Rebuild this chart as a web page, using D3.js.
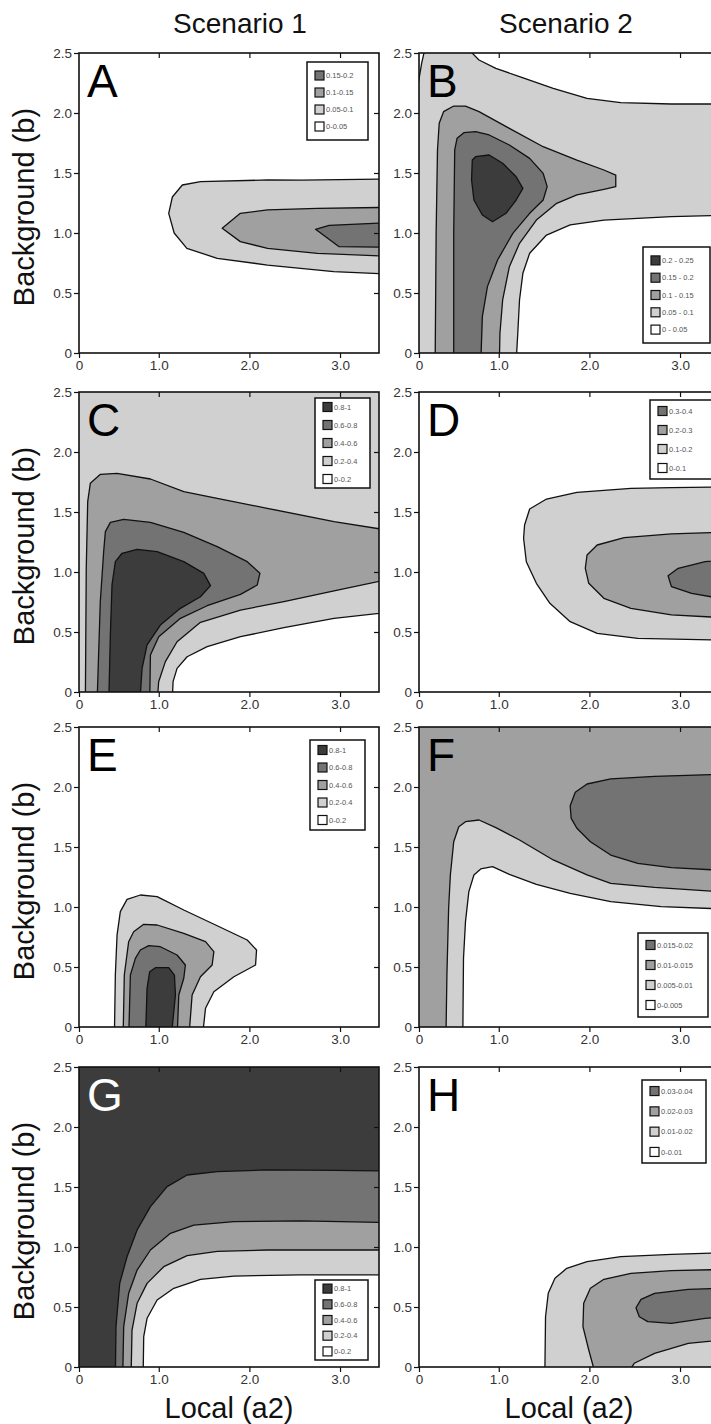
<!DOCTYPE html>
<html>
<head>
<meta charset="utf-8">
<script src="https://cdn.jsdelivr.net/npm/d3@7"></script>
<style>
  body { margin: 0; background: #fff; }
  svg { display: block; }
  text { font-family: "Liberation Sans", Arial, sans-serif; }
</style>
</head>
<body>
<div id="chart"></div>
<script>
// axis ticks
const xTickValues = [0.12, 1, 2, 3];
const xTickLabels = ["0", "1.0", "2.0", "3.0"];
const yTickValues = [0, 0.5, 1, 1.5, 2, 2.5];
const yTickLabels = ["0", "0.5", "1.0", "1.5", "2.0", "2.5"];

const columnTitles = ["Scenario 1", "Scenario 2"];
const xTitle = "Local (a2)";
const yTitle = "Background (b)";

// legend labels, top (highest level) to bottom
const legendA = ["0.15-0.2", "0.1-0.15", "0.05-0.1", "0-0.05"];
const legendB = ["0.2 - 0.25", "0.15 - 0.2", "0.1 - 0.15", "0.05 - 0.1", "0 - 0.05"];
const legendC = ["0.8-1", "0.6-0.8", "0.4-0.6", "0.2-0.4", "0-0.2"];
const legendD = ["0.3-0.4", "0.2-0.3", "0.1-0.2", "0-0.1"];
const legendE = ["0.8-1", "0.6-0.8", "0.4-0.6", "0.2-0.4", "0-0.2"];
const legendF = ["0.015-0.02", "0.01-0.015", "0.005-0.01", "0-0.005"];
const legendG = ["0.8-1", "0.6-0.8", "0.4-0.6", "0.2-0.4", "0-0.2"];
const legendH = ["0.03-0.04", "0.02-0.03", "0.01-0.02", "0-0.01"];

// contour regions: [a2, b] points, level index (0 = lowest band)
const contoursA = [
  {level: 1, pts: [[3.6,1.45],[2.57,1.44],[2.2,1.442],[1.46,1.428],[1.26,1.40],[1.15,1.30],[1.11,1.164],[1.17,1.0],[1.31,0.872],[1.645,0.789],[2.2,0.733],[2.93,0.678],[3.6,0.655]]},
  {level: 2, pts: [[3.6,1.214],[2.75,1.206],[2.2,1.192],[1.9,1.164],[1.70,1.039],[1.9,0.928],[2.2,0.872],[2.75,0.831],[3.6,0.805]]},
  {level: 3, pts: [[3.6,1.088],[2.88,1.064],[2.73,1.031],[2.99,0.886],[3.6,0.88]]}
];
const contoursB = [
  {level: 1, pts: [[-0.1,-0.1],[-0.1,2.2],[0.112,2.247],[0.149,2.414],[0.19,2.55],[0.64,2.55],[0.782,2.442],[0.968,2.372],[1.229,2.303],[1.601,2.206],[1.974,2.122],[2.346,2.086],[2.905,2.075],[3.6,2.075],[3.6,1.15],[2.905,1.136],[2.16,1.108],[1.788,1.067],[1.527,0.983],[1.341,0.831],[1.266,0.664],[1.229,0.442],[1.21,0.164],[1.19,-0.1]]},
  {level: 2, pts: [[0.298,-0.1],[0.309,0.997],[0.324,1.692],[0.343,1.914],[0.391,2.011],[0.503,2.058],[0.633,2.058],[0.782,2.011],[1.117,1.872],[1.49,1.719],[1.862,1.608],[2.16,1.525],[2.291,1.483],[2.291,1.386],[2.16,1.364],[1.862,1.317],[1.639,1.247],[1.415,1.108],[1.229,0.914],[1.117,0.719],[1.043,0.442],[1.013,0.164],[1.006,-0.1]]},
  {level: 3, pts: [[0.503,-0.1],[0.503,0.997],[0.514,1.692],[0.54,1.789],[0.615,1.836],[0.745,1.844],[0.894,1.817],[1.117,1.733],[1.341,1.622],[1.49,1.497],[1.534,1.386],[1.49,1.275],[1.341,1.164],[1.155,0.997],[0.987,0.775],[0.875,0.553],[0.819,0.303],[0.801,-0.1]]},
  {level: 4, pts: [[0.708,1.608],[0.745,1.636],[0.894,1.65],[1.043,1.581],[1.192,1.469],[1.266,1.372],[1.192,1.275],[1.08,1.164],[0.931,1.094],[0.819,1.15],[0.726,1.275],[0.7,1.442]]}
];
const contoursC = [
  {level: 0, pts: [[1.147,-0.1],[1.158,0.086],[1.202,0.197],[1.313,0.294],[1.534,0.378],[1.902,0.461],[2.381,0.536],[2.934,0.614],[3.6,0.67],[3.6,-0.1]]},
  {level: 2, pts: [[0.19,-0.1],[0.2,1.03],[0.216,1.586],[0.245,1.739],[0.356,1.814],[0.54,1.822],[0.908,1.775],[1.276,1.669],[1.645,1.614],[2.197,1.531],[2.934,1.419],[3.6,1.34],[3.6,0.95],[2.934,0.842],[2.381,0.753],[1.902,0.683],[1.46,0.581],[1.202,0.419],[1.073,0.253],[0.999,0.086],[0.982,-0.1]]},
  {level: 3, pts: [[0.319,-0.1],[0.355,0.753],[0.392,1.169],[0.411,1.336],[0.466,1.414],[0.613,1.439],[0.908,1.414],[1.276,1.331],[1.645,1.211],[1.976,1.086],[2.116,0.989],[2.087,0.892],[1.902,0.814],[1.534,0.719],[1.239,0.614],[1.0,0.461],[0.908,0.308],[0.9,-0.1]]},
  {level: 4, pts: [[0.448,-0.1],[0.466,0.475],[0.484,0.892],[0.521,1.086],[0.595,1.156],[0.761,1.189],[0.982,1.169],[1.276,1.086],[1.497,0.989],[1.571,0.886],[1.46,0.794],[1.239,0.697],[1.018,0.558],[0.871,0.392],[0.816,0.197],[0.79,-0.1]]}
];
const contoursD = [
  {level: 1, pts: [[3.6,1.711],[2.905,1.703],[2.458,1.697],[1.862,1.664],[1.527,1.608],[1.341,1.525],[1.285,1.392],[1.274,1.281],[1.304,1.086],[1.415,0.906],[1.564,0.739],[1.788,0.586],[2.086,0.489],[2.533,0.447],[3.6,0.43]]},
  {level: 2, pts: [[3.6,1.336],[2.905,1.317],[2.384,1.286],[2.086,1.225],[1.974,1.142],[1.955,1.031],[1.993,0.906],[2.16,0.781],[2.458,0.697],[2.905,0.642],[3.6,0.615]]},
  {level: 3, pts: [[2.868,0.969],[2.98,1.031],[3.277,1.086],[3.6,1.11],[3.6,0.76],[3.128,0.822],[2.905,0.878]]}
];
const contoursE = [
  {level: 1, pts: [[0.51,-0.1],[0.521,0.433],[0.54,0.767],[0.576,0.961],[0.65,1.064],[0.797,1.1],[0.982,1.086],[1.276,0.975],[1.645,0.844],[1.976,0.725],[2.079,0.642],[2.068,0.517],[1.829,0.419],[1.608,0.294],[1.516,0.156],[1.479,-0.1]]},
  {level: 2, pts: [[0.606,-0.1],[0.62,0.433],[0.668,0.711],[0.723,0.794],[0.834,0.856],[0.982,0.85],[1.276,0.781],[1.516,0.711],[1.608,0.628],[1.589,0.517],[1.46,0.419],[1.368,0.267],[1.331,-0.1]]},
  {level: 3, pts: [[0.668,-0.1],[0.687,0.433],[0.742,0.572],[0.797,0.642],[0.889,0.678],[1.018,0.669],[1.202,0.6],[1.294,0.517],[1.276,0.406],[1.221,0.267],[1.202,-0.1]]},
  {level: 4, pts: [[0.853,-0.1],[0.871,0.322],[0.9,0.461],[0.963,0.494],[1.11,0.494],[1.173,0.433],[1.184,0.267],[1.136,-0.1]]}
];
const contoursF = [
  {level: 1, pts: [[0.417,-0.1],[0.428,0.433],[0.447,0.989],[0.466,1.267],[0.503,1.544],[0.559,1.669],[0.633,1.711],[0.782,1.725],[0.968,1.661],[1.229,1.558],[1.601,1.392],[1.974,1.267],[2.235,1.197],[2.719,1.164],[3.6,1.12],[3.6,-0.1]]},
  {level: 0, pts: [[0.603,-0.1],[0.611,0.572],[0.633,0.878],[0.67,1.128],[0.726,1.267],[0.801,1.317],[0.931,1.336],[1.117,1.272],[1.415,1.189],[1.788,1.114],[2.235,1.044],[2.793,1.003],[3.6,0.98],[3.6,-0.1]]},
  {level: 3, pts: [[1.788,1.844],[1.844,1.956],[1.974,2.025],[2.235,2.067],[2.719,2.089],[3.6,2.11],[3.6,1.3],[2.905,1.328],[2.533,1.364],[2.235,1.433],[2.011,1.544],[1.862,1.656],[1.799,1.739]]}
];
const contoursG = [
  {level: 3, pts: [[0.521,-0.1],[0.528,0.336],[0.569,0.697],[0.65,0.919],[0.761,1.142],[0.908,1.336],[1.092,1.503],[1.313,1.6],[1.645,1.628],[2.197,1.642],[2.934,1.639],[3.6,1.633],[3.6,-0.1]]},
  {level: 2, pts: [[0.602,-0.1],[0.613,0.336],[0.668,0.614],[0.761,0.808],[0.908,0.975],[1.129,1.114],[1.387,1.183],[1.829,1.211],[2.565,1.217],[3.6,1.203],[3.6,-0.1]]},
  {level: 1, pts: [[0.694,-0.1],[0.705,0.308],[0.761,0.531],[0.871,0.697],[1.055,0.836],[1.313,0.928],[1.645,0.964],[2.197,0.975],[3.6,0.975],[3.6,-0.1]]},
  {level: 0, pts: [[0.827,-0.1],[0.834,0.253],[0.871,0.406],[0.982,0.558],[1.166,0.656],[1.46,0.731],[1.829,0.758],[2.565,0.767],[3.6,0.767],[3.6,-0.1]]}
];
const contoursH = [
  {level: 1, pts: [[1.508,-0.1],[1.516,0.419],[1.546,0.614],[1.62,0.739],[1.75,0.822],[1.974,0.878],[2.346,0.919],[2.905,0.939],[3.6,0.955],[3.6,-0.1]]},
  {level: 2, pts: [[2.08,-0.1],[1.993,0.142],[1.929,0.336],[1.937,0.531],[2.011,0.656],[2.16,0.731],[2.458,0.781],[2.905,0.803],[3.6,0.815],[3.6,0.235],[3.091,0.197],[2.719,0.114],[2.495,0.031],[2.38,-0.1]]},
  {level: 3, pts: [[2.514,0.494],[2.57,0.564],[2.719,0.614],[3.091,0.647],[3.6,0.658],[3.6,0.42],[3.277,0.406],[2.905,0.364],[2.644,0.378],[2.551,0.419]]}
];

const levelColors = ["#ffffff", "#d0d0d0", "#a0a0a0", "#737373", "#3c3c3c"];

// layout
const W = 711, H = 1424;
const plotW = 300, plotH = 300;
const colLeft = [79, 419];
const titleX = [240, 566];
const rowTop = [53, 392, 727, 1067];
const xDomain = [0.12, 3.43];
const yDomain = [0, 2.5];

const panels = [
  {name: "A", col: 0, row: 0, bg: 0, regions: contoursA, legend: legendA, lg: {x: 228, y: 9, w: 61, h: 78, step: 17}},
  {name: "B", col: 1, row: 0, bg: 0, regions: contoursB, legend: legendB, lg: {x: 224, y: 194, w: 67, h: 96, step: 17.3}},
  {name: "C", col: 0, row: 1, bg: 1, regions: contoursC, legend: legendC, lg: {x: 236, y: 6, w: 55, h: 90, step: 18}},
  {name: "D", col: 1, row: 1, bg: 0, regions: contoursD, legend: legendD, lg: {x: 231, y: 8, w: 62, h: 79, step: 19}},
  {name: "E", col: 0, row: 2, bg: 0, regions: contoursE, legend: legendE, lg: {x: 231, y: 13, w: 55, h: 90, step: 17.5}},
  {name: "F", col: 1, row: 2, bg: 2, regions: contoursF, legend: legendF, lg: {x: 219, y: 206, w: 70, h: 84, step: 20}},
  {name: "G", col: 0, row: 3, bg: 4, regions: contoursG, legend: legendG, lg: {x: 236, y: 213, w: 53, h: 80, step: 15.7}},
  {name: "H", col: 1, row: 3, bg: 0, regions: contoursH, legend: legendH, lg: {x: 223, y: 13, w: 64, h: 83, step: 20.3}}
];

const svg = d3.select("#chart").append("svg")
  .attr("width", W).attr("height", H)
  .attr("viewBox", `0 0 ${W} ${H}`);

// column titles
columnTitles.forEach((t, i) => {
  svg.append("text")
    .attr("x", titleX[i])
    .attr("y", 33)
    .attr("text-anchor", "middle")
    .attr("font-size", 28)
    .attr("fill", "#111")
    .text(t);
});

panels.forEach(p => {
  const left = colLeft[p.col], top = rowTop[p.row];
  const x = d3.scaleLinear().domain(xDomain).range([left, left + plotW]);
  const y = d3.scaleLinear().domain(yDomain).range([top + plotH, top]);

  const clipId = "clip" + p.name;
  svg.append("clipPath").attr("id", clipId)
    .append("rect").attr("x", left).attr("y", top).attr("width", plotW).attr("height", plotH);

  const g = svg.append("g").attr("clip-path", `url(#${clipId})`);
  g.append("rect")
    .attr("x", left).attr("y", top).attr("width", plotW).attr("height", plotH)
    .attr("fill", levelColors[p.bg]);

  const line = d3.line().x(d => x(d[0])).y(d => y(d[1])).curve(d3.curveLinearClosed);
  g.selectAll("path.region")
    .data(p.regions)
    .enter().append("path")
    .attr("class", "region")
    .attr("d", d => line(d.pts))
    .attr("fill", d => levelColors[d.level])
    .attr("stroke", "#111")
    .attr("stroke-width", 1.3)
    .attr("stroke-linejoin", "round");

  // axes
  const left_ = svg.append("g").attr("transform", `translate(${left},0)`)
    .call(d3.axisLeft(y).tickValues(yTickValues).tickFormat((d, i) => yTickLabels[i]).tickSize(5).tickPadding(2));
  const bottom_ = svg.append("g").attr("transform", `translate(0,${top + plotH})`)
    .call(d3.axisBottom(x).tickValues(xTickValues).tickFormat((d, i) => xTickLabels[i]).tickSize(5).tickPadding(2));
  const top_ = svg.append("g").attr("transform", `translate(0,${top})`)
    .call(d3.axisTop(x).tickValues(xTickValues.slice(1)).tickFormat("").tickSize(-5));
  const right_ = svg.append("g").attr("transform", `translate(${left + plotW},0)`)
    .call(d3.axisRight(y).tickValues(yTickValues.slice(1, -1)).tickFormat("").tickSize(-5));
  [left_, bottom_, top_, right_].forEach(a => {
    a.select(".domain").remove();
    a.selectAll("line").attr("stroke", "#111").attr("stroke-width", 1.2);
    a.selectAll("text").attr("font-size", 13.5).attr("fill", "#333")
      .attr("font-family", "'Liberation Sans', Arial, sans-serif");
  });

  svg.append("rect")
    .attr("x", left).attr("y", top).attr("width", plotW).attr("height", plotH)
    .attr("fill", "none").attr("stroke", "#111").attr("stroke-width", 1.6);

  // panel letter
  svg.append("text")
    .attr("x", left + 8).attr("y", top + 44)
    .attr("font-size", 46)
    .attr("fill", p.name === "G" ? "#fff" : "#000")
    .text(p.name);

  // legend
  const n = p.legend.length;
  const lx = left + p.lg.x, ly = top + p.lg.y;
  const lgG = svg.append("g");
  lgG.append("rect")
    .attr("x", lx).attr("y", ly).attr("width", p.lg.w).attr("height", p.lg.h)
    .attr("fill", "#fff").attr("stroke", "#111").attr("stroke-width", 1.5);
  const firstY = ly + (p.lg.h - (n - 1) * p.lg.step) / 2;
  p.legend.forEach((lab, i) => {
    const cy = firstY + i * p.lg.step;
    lgG.append("rect")
      .attr("x", lx + 8).attr("y", cy - 4.5).attr("width", 9).attr("height", 9)
      .attr("fill", levelColors[n - 1 - i]).attr("stroke", "#111").attr("stroke-width", 1.2);
    lgG.append("text")
      .attr("x", lx + 19).attr("y", cy)
      .attr("dy", "0.35em")
      .attr("font-size", 7.5).attr("fill", "#555")
      .text(lab);
  });

  // axis titles
  if (p.col === 0) {
    svg.append("text")
      .attr("transform", `translate(34,${top + plotH / 2 + 4}) rotate(-90)`)
      .attr("text-anchor", "middle")
      .attr("font-size", 29)
      .attr("fill", "#111")
      .text(yTitle);
  }
  if (p.row === 3) {
    svg.append("text")
      .attr("x", left + plotW / 2).attr("y", 1418)
      .attr("text-anchor", "middle")
      .attr("font-size", 29)
      .attr("fill", "#111")
      .text(xTitle);
  }
});
</script>
</body>
</html>
